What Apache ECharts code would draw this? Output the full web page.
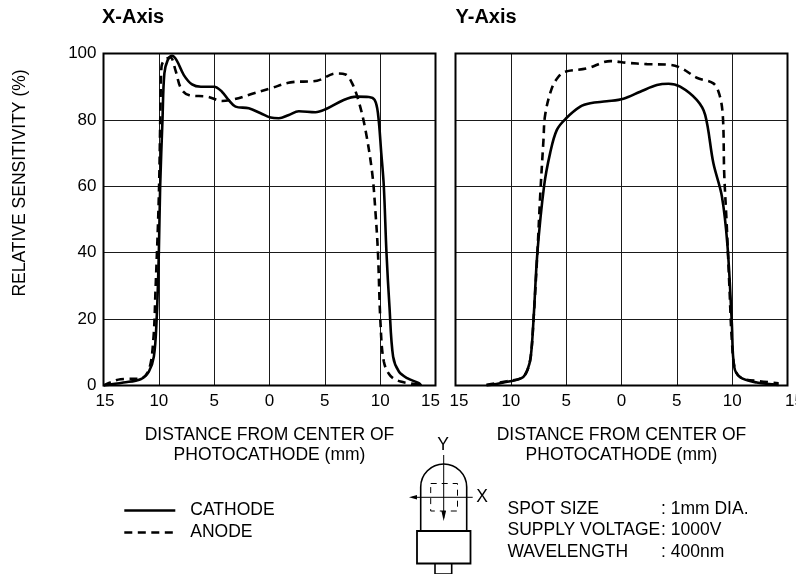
<!DOCTYPE html>
<html><head><meta charset="utf-8">
<style>html,body{margin:0;padding:0;background:#fff}#c{width:796px;height:574px}</style>
<script src="https://cdn.jsdelivr.net/npm/echarts@6/dist/echarts.min.js"></script>
</head><body><div id="c"></div>
<script>
const xCathode=[[-15,0],[-13.2,0.9],[-11.65,1.9],[-10.9,4.2],[-10.45,8.7],[-10.2,19.8],[-10,40],[-9.88,60],[-9.67,80],[-9.5,94],[-9.2,98],[-8.8,99.3],[-8.4,98],[-7.74,93.5],[-7,90.7],[-6.2,90],[-5,90],[-4.3,88.5],[-3.7,86],[-3.07,84],[-1.87,83.5],[-0.8,82],[0.1,80.7],[0.84,80.5],[1.75,81.5],[2.65,82.6],[4.15,82.3],[5.06,83.2],[6.7,86],[7.9,87],[8.98,86.9],[9.5,86],[9.8,82],[10.1,70],[10.33,60],[10.57,40],[10.84,23.8],[11.17,8.7],[11.69,4.2],[12.44,2.2],[13.5,0.7],[13.7,0]];
const xAnode=[[-15,0],[-14.4,0.9],[-13.46,1.9],[-11.65,2.1],[-10.9,4.7],[-10.5,13.7],[-10.3,28.8],[-10,57],[-9.85,84],[-9.76,96],[-9.5,98],[-8.95,98.8],[-8.5,95],[-8,89.5],[-7.3,87.5],[-5.6,87],[-4.3,85.7],[-3.2,86.2],[-1.7,87.7],[0.1,89.5],[1.9,91.3],[4.3,91.8],[6,94],[6.87,93.7],[7.47,91],[8.07,85.5],[8.67,77],[9.28,64],[9.58,52],[9.8,40],[10.03,18.8],[10.33,7.2],[10.93,2.9],[11.84,1.2],[13.64,0.2]];
const yCathode=[[-12.2,0],[-10.66,0.9],[-9,2.3],[-8.5,4.7],[-8.2,8.7],[-7.95,19.8],[-7.6,40],[-7,60],[-6.45,70],[-5.84,77],[-5,80.5],[-3.73,84],[-2.83,85],[-1.33,85.6],[0.18,86.4],[1.69,88.5],[3.2,90.5],[4.25,90.9],[5.3,90],[6.8,86],[7.56,81.5],[8.3,67],[9.07,57],[9.58,42],[9.97,18.8],[10.18,5.7],[10.72,2.5],[12.23,0.9],[14.2,0.2]];
const yAnode=[[-12.2,0.2],[-10.36,1.3],[-9,2.3],[-8.5,4.7],[-8.2,8.7],[-7.95,19.8],[-7.6,40],[-7.35,57],[-7.05,74],[-6.9,81.5],[-6.3,89.5],[-5.7,93],[-5.1,94.5],[-3.13,95.5],[-1,97.7],[0.48,97.2],[2.3,96.8],[4.4,96.6],[5.45,95.5],[6.8,92.7],[8.3,91],[8.86,87.5],[9.16,81],[9.28,64],[9.5,49],[9.76,29],[9.97,13.7],[10.27,4.7],[10.87,2.2],[12.5,1.3],[14.2,0.7]];
const seriesNames=['CATHODE','ANODE'];
const xAxisTitle='DISTANCE FROM CENTER OF\nPHOTOCATHODE (mm)';
const yAxisTitle='RELATIVE SENSITIVITY (%)';
const panelTitles=['X-Axis','Y-Axis'];
const specLabels=['SPOT SIZE','SUPPLY VOLTAGE','WAVELENGTH'];
const specValues=[': 1mm DIA.',': 1000V',': 400nm'];

const FONT='"Liberation Sans", Arial, sans-serif';
const K='#000';
const FS=17.5;
const gridLine={show:true,lineStyle:{color:'#1a1a1a',width:1,type:'solid'}};
const tickRich={color:K,fontSize:17,fontFamily:FONT};
const mkX=i=>({type:'value',gridIndex:i,min:-15,max:15,interval:5,
  axisLine:{show:false},axisTick:{show:false},splitLine:gridLine,
  axisLabel:{show:true,
    formatter:v=>{const s=String(Math.abs(v));
      if(i===0&&v===15)return '{shiftL|'+s+'}';
      if(i===0&&v===-15)return '{shiftS|'+s+'}';
      if(i===1&&v===-15)return '{shiftR|'+s+'}';
      if(i===1&&v===15)return '{shiftRR|'+s+'}';
      return s;},
    rich:{shiftL:{...tickRich,padding:[0,10,0,0]},shiftS:{...tickRich,padding:[0,0,0,3]},shiftR:{...tickRich,padding:[0,0,0,7]},shiftRR:{...tickRich,padding:[0,0,0,14]}},
    color:K,fontSize:17,fontFamily:FONT,margin:7,showMinLabel:true,showMaxLabel:true,hideOverlap:false},
  name:xAxisTitle,nameLocation:'middle',nameGap:40,nameTextStyle:{color:K,fontSize:FS,fontFamily:FONT,lineHeight:20,verticalAlign:'top'}});
const mkY=(i,lab)=>({type:'value',gridIndex:i,min:0,max:100,interval:20,
  axisLine:{show:false},axisTick:{show:false},splitLine:gridLine,
  axisLabel:{show:lab,color:K,fontSize:17,fontFamily:FONT,margin:7,padding:[3,0,0,0]}});
const mkS=(name,data,i,dashed)=>({name,type:'line',xAxisIndex:i,yAxisIndex:i,data,showSymbol:false,symbol:'none',smooth:0.35,clip:true,z:5,
  lineStyle:{color:K,width:2.6,type:dashed?[8,5.5]:'solid',cap:'butt'},itemStyle:{color:K}});
const txt=(x,y,t,o={})=>({type:'text',x,y,silent:true,z:20,rotation:o.rot||0,style:{text:t,fill:K,font:(o.bold?'bold ':'')+(o.size||FS)+'px '+FONT,textAlign:o.align||'left',textVerticalAlign:'middle',textBaseline:'middle'}});
const stroke=(w,extra)=>Object.assign({stroke:K,lineWidth:w,fill:'none'},extra||{});
const line=(x1,y1,x2,y2,w,dash)=>({type:'line',silent:true,z:20,shape:{x1,y1,x2,y2},style:stroke(w,dash?{lineDash:dash}:{})});
const gfx=[
 txt(102,17,panelTitles[0],{bold:true,size:20}),
 txt(455.5,17,panelTitles[1],{bold:true,size:20}),
 txt(20,183,yAxisTitle,{rot:Math.PI/2,align:'center'}),
 {type:'rect',silent:true,z:10,shape:{x:103.5,y:53.5,width:332,height:332},style:stroke(2)},
 {type:'rect',silent:true,z:10,shape:{x:455.5,y:53.5,width:332,height:332},style:stroke(2)},
 {type:'arc',silent:true,z:20,shape:{cx:443.7,cy:487,r:23,startAngle:Math.PI,endAngle:2*Math.PI},style:stroke(1.6)},
 line(420.7,487,420.7,531,1.6),line(466.7,487,466.7,531,1.6),
 {type:'rect',silent:true,z:20,shape:{x:417,y:531,width:53.5,height:32.5},style:stroke(1.8)},
 {type:'polyline',silent:true,z:20,shape:{points:[[435,563],[435,574],[451.7,574],[451.7,563]]},style:stroke(1.6)},
 line(443.7,455,443.7,518,1),line(412,497.3,472.7,497.3,1),
 {type:'polygon',silent:true,z:20,shape:{points:[[409,497.3],[417,495],[417,499.6]]},style:{fill:K}},
 {type:'polygon',silent:true,z:20,shape:{points:[[443.7,521],[441.4,511],[446,511]]},style:{fill:K}},
 {type:'rect',silent:true,z:20,shape:{x:430.7,y:483.5,width:26.8,height:27.5},style:stroke(1,{lineDash:[6,5]})},
 txt(443,445,'Y',{align:'center'}),
 txt(482,497,'X',{align:'center'}),
];
const specY=[509.5,530.5,552];
specLabels.forEach((s,i)=>{
  gfx.push(txt(507.5,specY[i],s));
  gfx.push(txt(661,specY[i],specValues[i]));
});
const chart=echarts.init(document.getElementById('c'),null,{renderer:'canvas'});
chart.setOption({
  animation:false,backgroundColor:'#fff',
  grid:[{left:103.5,top:53.5,width:332,height:332,containLabel:false,outerBoundsMode:'none'},{left:455.5,top:53.5,width:332,height:332,containLabel:false,outerBoundsMode:'none'}],
  xAxis:[mkX(0),mkX(1)],
  yAxis:[mkY(0,true),mkY(1,false)],
  legend:{show:true,orient:'vertical',left:123,top:500.5,itemWidth:51,itemHeight:14,itemGap:2,data:seriesNames,
    itemStyle:{opacity:0,borderWidth:0},lineStyle:{width:2.6},
    textStyle:{color:K,fontSize:FS,fontFamily:FONT,lineHeight:20,padding:[0,0,0,10]},selectedMode:false,padding:0},
  series:[mkS(seriesNames[0],xCathode,0,false),mkS(seriesNames[1],xAnode,0,true),mkS(seriesNames[0],yCathode,1,false),mkS(seriesNames[1],yAnode,1,true)],
  graphic:gfx
});
</script></body></html>
